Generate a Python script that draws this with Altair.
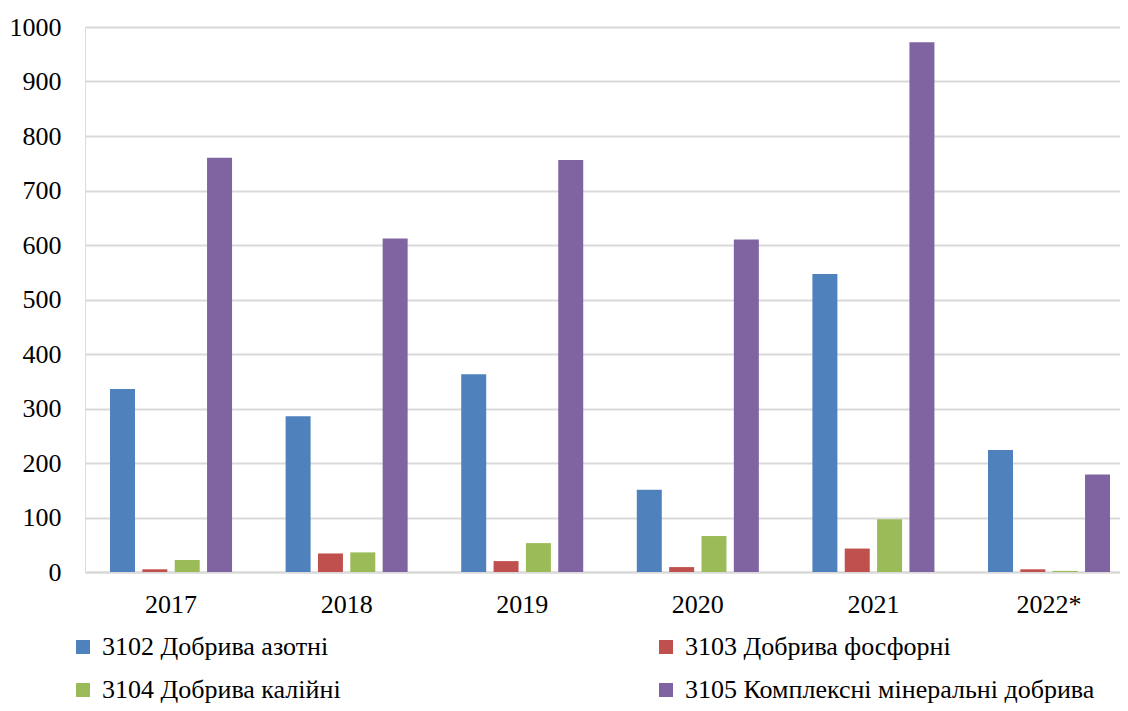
import altair as alt
import pandas as pd

years = ["2017", "2018", "2019", "2020", "2021", "2022*"]
series_names = [
    "3102 Добрива азотні",
    "3103 Добрива фосфорні",
    "3104 Добрива калійні",
    "3105 Комплексні мінеральні добрива",
]
nitrogen = [336, 286, 363, 151, 547, 224]
phosphate = [5, 34, 20, 9, 43, 5]
potash = [22, 36, 53, 66, 97, 2]
complex_min = [760, 612, 756, 610, 972, 179]
colors = ["#4F81BD", "#C0504D", "#9BBB59", "#8064A2"]

rows = []
for name, vals in zip(series_names, [nitrogen, phosphate, potash, complex_min]):
    for y, v in zip(years, vals):
        rows.append({"year": y, "series": name, "value": v})
df = pd.DataFrame(rows)

FONT = "Liberation Serif"

chart = alt.Chart(df).mark_bar().encode(
    x=alt.X("year:N", sort=years, title=None,
            scale=alt.Scale(paddingInner=0.305, paddingOuter=0.0996, align=0.715),
            axis=alt.Axis(labelAngle=0, ticks=False, labelPadding=19, labelFontSize=26,
                          labelFont=FONT, labelColor="black", domainColor="#d9d9d9",
                          domainWidth=2, grid=False)),
    xOffset=alt.XOffset("series:N", sort=series_names,
                        scale=alt.Scale(paddingInner=0.227, paddingOuter=0)),
    y=alt.Y("value:Q", title=None,
            scale=alt.Scale(domain=[0, 1000], nice=False),
            axis=alt.Axis(values=list(range(0, 1001, 100)), format="d", ticks=False,
                          domain=False, labelPadding=24, labelFontSize=26, labelFont=FONT,
                          labelColor="black", gridColor="#d9d9d9", gridWidth=2)),
    color=alt.Color("series:N", sort=series_names,
                    scale=alt.Scale(domain=series_names, range=colors),
                    legend=alt.Legend(title=None, orient="none", legendX=-15, legendY=607,
                                      direction="horizontal", columns=2,
                                      columnPadding=312, rowPadding=17, padding=0,
                                      symbolType="square", symbolSize=196,
                                      symbolStrokeWidth=0, labelFontSize=26,
                                      labelFont=FONT, labelColor="black",
                                      labelOffset=6, labelLimit=600)),
).properties(
    width=1035,
    height=545,
    autosize=alt.AutoSizeParams(type="none"),
    padding={"left": 77, "top": 19, "right": 0, "bottom": 131},
).configure_view(stroke=None).configure(background="white", font=FONT).configure_legend(
    labelFont=FONT, labelFontSize=26, labelColor="black"
)

chart.save("out.html", embed_options={"renderer": "svg", "actions": False})
